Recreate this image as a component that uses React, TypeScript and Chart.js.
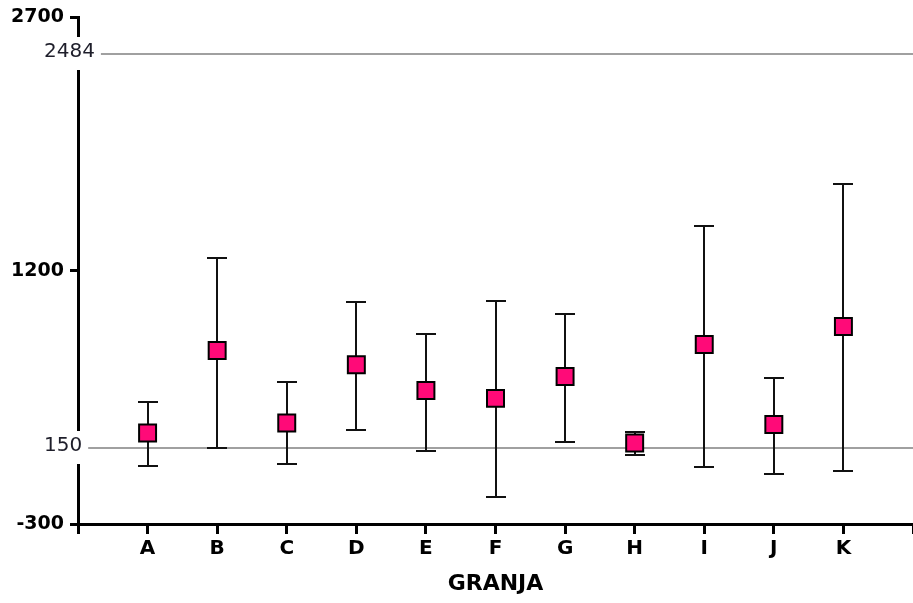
import React, { useEffect, useRef } from 'react';
import { Chart, registerables } from 'chart.js';

Chart.register(...registerables);

const categories = ['A', 'B', 'C', 'D', 'E', 'F', 'G', 'H', 'I', 'J', 'K'];
const means = [239, 728, 298, 643, 491, 444, 574, 180, 763, 289, 870];
const upperValues = [422, 1275, 540, 1015, 828, 1023, 942, 245, 1464, 566, 1712];
const lowerValues = [44, 151, 56, 259, 131, -141, 186, 106, 35, -1, 11];
const yTickValues = [-300, 1200, 2700];
const referenceValues = [150, 2484];
const axisTitle = 'GRANJA';

const FONT = '"DejaVu Sans", sans-serif';

export default function App() {
  const canvasRef = useRef<HTMLCanvasElement>(null);

  useEffect(() => {
    const canvas = canvasRef.current;
    if (!canvas) return;

    const errorBarsPlugin = {
      id: 'errorBars',
      beforeDatasetsDraw(chart: any) {
        const { ctx, chartArea, scales } = chart;
        const x = scales.x;
        const y = scales.y;
        ctx.save();
        ctx.strokeStyle = '#a0a0a0';
        ctx.lineWidth = 2;
        referenceValues.forEach((v) => {
          const py = Math.round(y.getPixelForValue(v));
          ctx.beginPath();
          ctx.moveTo(chartArea.left, py);
          ctx.lineTo(chartArea.right, py);
          ctx.stroke();
        });
        ctx.strokeStyle = '#111';
        ctx.lineWidth = 2;
        categories.forEach((_, i) => {
          const px = Math.round(x.getPixelForValue(i + 1));
          const top = Math.round(y.getPixelForValue(upperValues[i]));
          const bot = Math.round(y.getPixelForValue(lowerValues[i]));
          ctx.beginPath();
          ctx.moveTo(px, top);
          ctx.lineTo(px, bot);
          ctx.moveTo(px - 10, top);
          ctx.lineTo(px + 10, top);
          ctx.moveTo(px - 10, bot);
          ctx.lineTo(px + 10, bot);
          ctx.stroke();
        });
        ctx.restore();
      },
      afterDraw(chart: any) {
        const { ctx, scales } = chart;
        const y = scales.y;
        ctx.save();
        ctx.font = `20px ${FONT}`;
        ctx.textBaseline = 'middle';
        ctx.textAlign = 'left';
        referenceValues.forEach((v) => {
          const py = Math.round(y.getPixelForValue(v));
          const text = String(v);
          const w = ctx.measureText(text).width;
          const left = 44;
          ctx.fillStyle = '#fff';
          ctx.fillRect(left - 3, py - 17, w + 9, 33);
          ctx.fillStyle = '#1e1e2a';
          ctx.fillText(text, left, py - 2);
        });
        ctx.restore();
      },
    };

    const chart = new Chart(canvas, {
      type: 'scatter',
      data: {
        datasets: [
          {
            data: means.map((m, i) => ({ x: i + 1, y: m })),
            pointStyle: 'rect',
            pointRadius: 12,
            pointHoverRadius: 12,
            backgroundColor: '#ff0a78',
            borderColor: '#000',
            borderWidth: 2,
            showLine: false,
          },
        ],
      },
      options: {
        animation: false,
        responsive: true,
        maintainAspectRatio: false,
        devicePixelRatio: 1,
        events: [],
        layout: { autoPadding: false, padding: { top: 17, right: 0, bottom: 0, left: 0 } },
        plugins: {
          legend: { display: false },
          tooltip: { enabled: false },
        },
        scales: {
          x: {
            type: 'linear',
            min: 0,
            max: 12,
            afterBuildTicks: (s: any) => {
              s.ticks = Array.from({ length: 13 }, (_, i) => ({ value: i }));
            },
            afterFit: (s: any) => {
              s.height = 79;
              s.paddingLeft = 0;
              s.paddingRight = 0;
            },
            ticks: {
              autoSkip: false,
              maxRotation: 0,
              padding: 3,
              color: '#000',
              font: { family: FONT, size: 20, weight: 'bold' },
              callback: (v: any) => categories[Number(v) - 1] ?? '',
            },
            grid: {
              drawOnChartArea: false,
              drawTicks: true,
              tickLength: 10,
              color: '#000',
              lineWidth: 3,
            },
            border: { display: true, color: '#000', width: 3 },
            title: {
              display: true,
              text: axisTitle,
              color: '#000',
              font: { family: FONT, size: 22, weight: 'bold' },
              padding: { top: 0, bottom: 6 },
            },
          },
          y: {
            type: 'linear',
            min: -300,
            max: 2700,
            afterBuildTicks: (s: any) => {
              s.ticks = yTickValues.map((v) => ({ value: v }));
            },
            afterFit: (s: any) => {
              s.width = 78;
            },
            ticks: {
              padding: 6,
              color: '#000',
              font: { family: FONT, size: 19, weight: 'bold' },
              callback: (v: any) => String(v),
            },
            grid: {
              drawOnChartArea: false,
              drawTicks: true,
              tickLength: 8,
              color: '#000',
              lineWidth: 3,
            },
            border: { display: true, color: '#000', width: 3 },
          },
        },
      },
      plugins: [errorBarsPlugin],
    } as any);

    return () => {
      chart.destroy();
    };
  }, []);

  return (
    <div style={{ position: 'fixed', left: 0, top: 0, width: 913, height: 603, background: '#fff' }}>
      <canvas ref={canvasRef} />
    </div>
  );
}
